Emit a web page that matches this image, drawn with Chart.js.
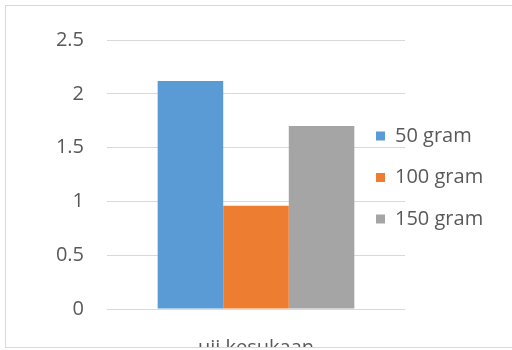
<!DOCTYPE html>
<html>
<head>
<meta charset="utf-8">
<script src="https://cdn.jsdelivr.net/npm/chart.js@4"></script>
<style>
  html, body { margin: 0; padding: 0; background: #fff; overflow: hidden; }
  #wrap { position: relative; width: 512px; height: 350px; overflow: hidden; }
  #chart { position: absolute; left: 0; top: 0; }
  #frame { position: absolute; left: 5px; top: 5px; width: 520px; height: 341px; border: 1px solid #d9d9d9; pointer-events: none; }
  #cover { position: absolute; left: 0; top: 348px; width: 512px; height: 30px; background: #fff; }
</style>
</head>
<body>
<div id="wrap">
  <canvas id="chart" width="512" height="365"></canvas>
  <div id="cover"></div>
  <div id="frame"></div>
</div>
<script>
// data
const categories = ['uji kesukaan'];
const seriesNames = ['50 gram', '100 gram', '150 gram'];
const series50 = [2.12];
const series100 = [0.96];
const series150 = [1.70];
const yTicks = [0, 0.5, 1, 1.5, 2, 2.5];

const colors = ['#5B9BD5', '#ED7D31', '#A5A5A5'];

Chart.defaults.font.family = "'Open Sans', sans-serif";
Chart.defaults.color = '#595959';

const LEGEND_PAD = 21.5;

// legend sits partly over the plot area, like the Excel original
const legendShift = {
    id: 'legendShift',
    beforeLayout(chart) {
        const lg = chart.legend;
        if (lg && !lg._wrapped) {
            const fit = lg.fit;
            lg.fit = function () {
                fit.call(this);
                this.width = 107;
            };
            lg._wrapped = true;
        }
    },
    afterLayout(chart) {
        const lg = chart.legend;
        lg.left = lg.left - (29 + LEGEND_PAD);
        lg.top -= 25;
        lg.bottom -= 25;
    }
};

const ctx = document.getElementById('chart').getContext('2d');
new Chart(ctx, {
    type: 'bar',
    data: {
        labels: categories,
        datasets: [
            { label: seriesNames[0], data: series50, backgroundColor: colors[0] },
            { label: seriesNames[1], data: series100, backgroundColor: colors[1] },
            { label: seriesNames[2], data: series150, backgroundColor: colors[2] }
        ]
    },
    options: {
        responsive: false,
        animation: false,
        layout: {
            padding: { top: 40, left: 0, right: 0, bottom: 0 }
        },
        datasets: {
            bar: {
                categoryPercentage: 0.66,
                barPercentage: 1,
                borderWidth: 0
            }
        },
        plugins: {
            tooltip: { enabled: false },
            legend: {
                position: 'right',
                labels: {
                    boxWidth: 9,
                    boxHeight: 9,
                    padding: LEGEND_PAD,
                    color: '#595959',
                    font: { size: 20 }
                }
            }
        },
        scales: {
            x: {
                grid: { display: false },
                border: { display: false },
                ticks: {
                    padding: 19,
                    color: '#595959',
                    font: { size: 20 }
                },
                afterFit: function (scale) {
                    scale.height = 365 - 309;
                }
            },
            y: {
                min: 0,
                max: 2.5,
                afterBuildTicks: function (scale) {
                    scale.ticks = yTicks.map(v => ({ value: v }));
                },
                grid: {
                    color: '#d9d9d9',
                    lineWidth: 1,
                    drawTicks: false
                },
                border: { display: false },
                ticks: {
                    padding: 23,
                    color: '#595959',
                    font: { size: 20 },
                    callback: function (value) {
                        return String(value);
                    }
                },
                afterFit: function (scale) {
                    scale.width = 107;
                }
            }
        }
    },
    plugins: [legendShift]
});
</script>
</body>
</html>
